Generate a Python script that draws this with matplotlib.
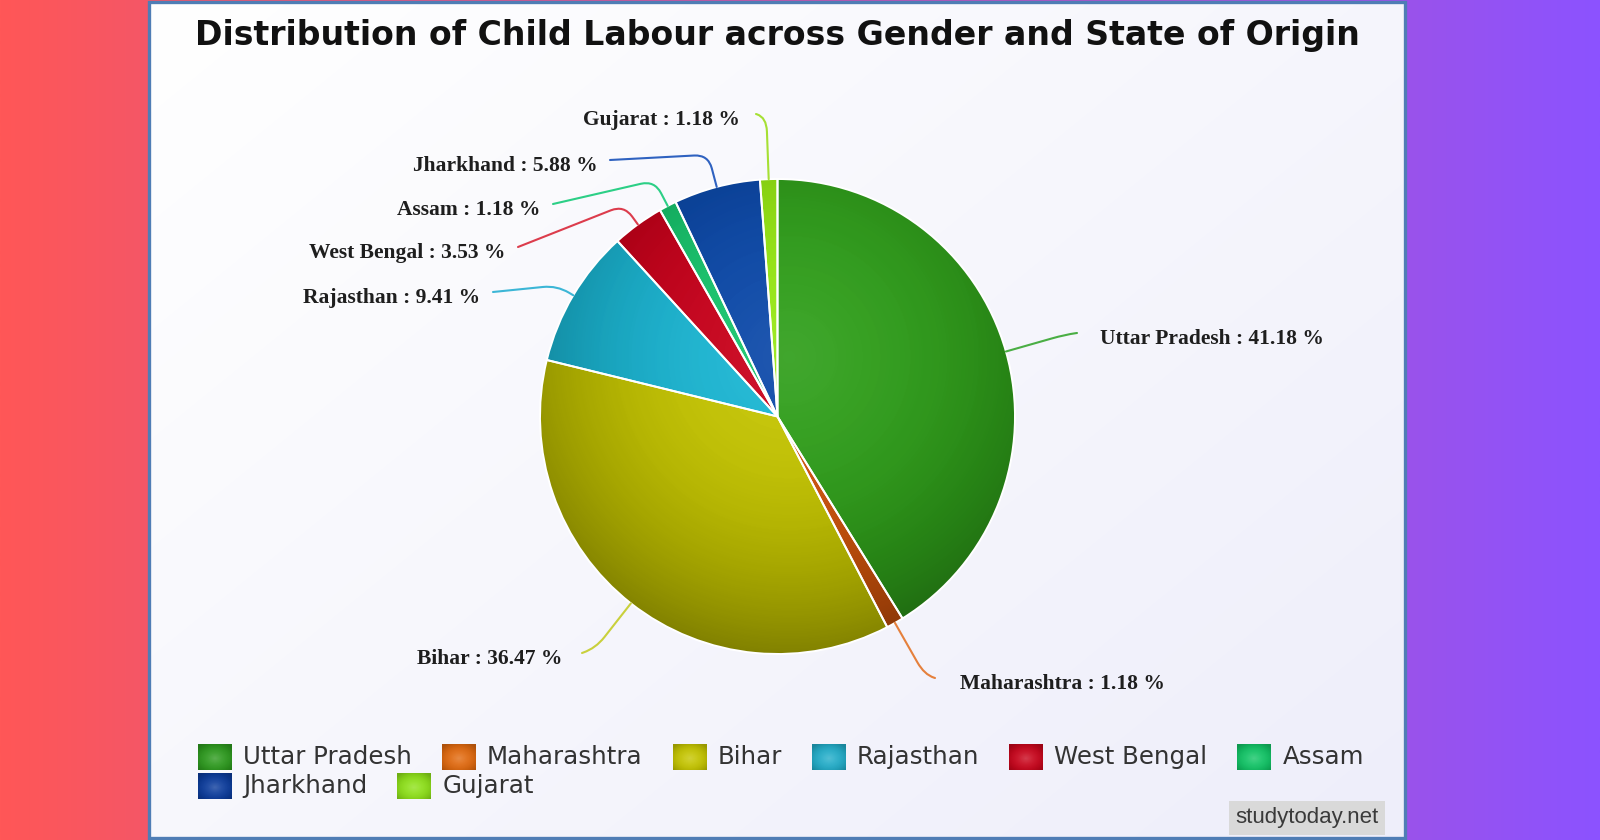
import numpy as np
import matplotlib
matplotlib.use('Agg')
import matplotlib.pyplot as plt
from matplotlib.patches import Rectangle, Circle, PathPatch
from matplotlib.path import Path
from matplotlib.colors import to_rgb

# ---------------- data ----------------
states = ['Uttar Pradesh', 'Maharashtra', 'Bihar', 'Rajasthan',
          'West Bengal', 'Assam', 'Jharkhand', 'Gujarat']
shares = [41.18, 1.18, 36.47, 9.41, 3.53, 1.18, 5.88, 1.18]
slice_colors = ['#2f9e1a', '#d0540c', '#c4c400', '#1ab5d2',
                '#c8001a', '#16c46c', '#0b48a8', '#95e612']
line_colors = ['#4aae44', '#e5803c', '#c9d03c', '#3cb6d6',
               '#dc3c4c', '#2ccf86', '#2f62c0', '#a6e034']
legend_colors = ['#2e9a1f', '#e0690f', '#c4c400', '#22acc8',
                 '#c8061c', '#12c466', '#0c3c9c', '#8ee01a']
title = 'Distribution of Child Labour across Gender and State of Origin'
watermark = 'studytoday.net'

# ---------------- layout (pixel units, y measured from top) ----------------
W, H = 1600, 840
def Y(y):
    return H - y

fig = plt.figure(figsize=(16, 8.4), dpi=100)
ax = fig.add_axes([0, 0, 1, 1])

# outer gradient background
xg = np.linspace(0, 1, 600)
c0 = np.array(to_rgb('#ff5757'))
c1 = np.array(to_rgb('#8c52ff'))
bg = c0[None, None, :] * (1 - xg)[None, :, None] + c1[None, None, :] * xg[None, :, None]
ax.imshow(bg, extent=(0, W, 0, H), aspect='auto', zorder=0, interpolation='bilinear')

# white panel with faint lavender gradient
px0, py0, px1, py1 = 149, 2, 1405, 838
yy, xx = np.mgrid[0:1:200j, 0:1:300j]
t = np.clip(0.55 * xx + 0.45 * yy, 0, 1)
p0 = np.array(to_rgb('#ffffff'))
p1 = np.array(to_rgb('#eeeefa'))
panel = p0[None, None, :] * (1 - t)[..., None] + p1[None, None, :] * t[..., None]
ax.imshow(panel, extent=(px0, px1, Y(py1), Y(py0)), aspect='auto', zorder=0.5,
          interpolation='bilinear')
ax.add_patch(Rectangle((px0, Y(py1)), px1 - px0, py1 - py0, fill=False,
                       edgecolor='#4f7db5', linewidth=2.4, zorder=0.6))

# ---------------- pie ----------------
cx, cy, R = 777.5, Y(416.5), 237.5
wedges, _ = ax.pie(shares, colors=slice_colors, startangle=90, counterclock=False,
                   center=(cx, cy), radius=R,
                   wedgeprops=dict(linewidth=0, zorder=2))

# radial shading overlay
n = 500
gx, gy = np.meshgrid(np.linspace(-1, 1, n), np.linspace(1, -1, n))
d = np.clip(np.hypot(gx - 0.05, gy - 0.25) / 1.25, 0, 1)
dark = np.zeros((n, n, 4)); dark[..., 3] = 0.34 * d ** 2.4
light = np.ones((n, n, 4)); light[..., 3] = 0.09 * (1 - d) ** 2
for img in (dark, light):
    im = ax.imshow(img, extent=(cx - R, cx + R, cy - R, cy + R), zorder=2.5,
                   interpolation='bilinear')
    im.set_clip_path(Circle((cx, cy), R, transform=ax.transData))

ax.pie(shares, startangle=90, counterclock=False, center=(cx, cy), radius=R,
       wedgeprops=dict(fill=False, edgecolor='white', linewidth=1.4, zorder=3))

# ---------------- leader lines + labels ----------------
label_end = [(1077, 333), (935, 678), (582, 653), (493, 292),
             (518, 247), (553, 204), (610, 160), (756, 114)]
elbow_k = [1.26, 1.25, 1.24, 1.08, 1.10, 1.12, 1.14, 1.26]
label_text_x = [1100, 960, 562, 480, 505, 540, 598, 740]

for i, w in enumerate(wedges):
    th = np.deg2rad(0.5 * (w.theta1 + w.theta2))
    P0 = np.array([cx + R * np.cos(th), cy + R * np.sin(th)])
    E = np.array([cx + elbow_k[i] * R * np.cos(th), cy + elbow_k[i] * R * np.sin(th)])
    P2 = np.array([label_end[i][0], Y(label_end[i][1])])
    rr = 14.0
    v1 = P0 - E; l1 = np.hypot(*v1)
    v2 = P2 - E; l2 = np.hypot(*v2)
    A = E + v1 * min(0.9, rr / l1)
    B = E + v2 * min(0.9, rr / l2)
    path = Path([P0, A, E, B, P2],
                [Path.MOVETO, Path.LINETO, Path.CURVE3, Path.CURVE3, Path.LINETO])
    ax.add_patch(PathPatch(path, fill=False, edgecolor=line_colors[i],
                           linewidth=1.5, zorder=3.5, capstyle='round'))
    txt = f'{states[i]} : {shares[i]:.2f} %'
    ha = 'left' if label_text_x[i] > cx else 'right'
    ax.text(label_text_x[i], Y(label_end[i][1] + 11), txt, ha=ha, va='baseline',
            fontsize=15.5, fontweight='bold', family='Liberation Serif',
            color='#1e1e1e', zorder=4)

# ---------------- title ----------------
ax.set_xlim(0, W)
ax.set_ylim(0, H)
ax.set_aspect('auto')
ax.set_axis_off()

fig.canvas.draw()
rend = fig.canvas.get_renderer()

def fit(t, target):
    wdt = t.get_window_extent(rend).width
    t.set_fontsize(t.get_fontsize() * target / wdt)

ttl = ax.text(777, Y(45), title, ha='center', va='baseline', fontsize=22,
              fontweight='bold', family='DejaVu Sans', color='#111111', zorder=4)
fit(ttl, 1164)

# ---------------- legend (flow layout) ----------------
rows = [list(range(0, 6)), list(range(6, 8))]
row_y = [757, 786]
box_w, box_h, box_gap, item_gap = 34, 26, 11, 30
probe = ax.text(0, 0, 'Uttar Pradesh', fontsize=16, family='DejaVu Sans')
fit(probe, 169)
leg_fs = probe.get_fontsize()
probe.remove()

bn = 60
bx, by = np.meshgrid(np.linspace(-1, 1, bn), np.linspace(1, -1, bn))
bd = np.clip(np.hypot(bx, by + 0.1) / 1.3, 0, 1)
box_shade = np.zeros((bn, bn, 4))
box_shade[..., :3] = 1.0
box_shade[..., 3] = 0.22 * (1 - bd) ** 2
box_dark = np.zeros((bn, bn, 4))
box_dark[..., 3] = 0.22 * bd ** 3

for r, idxs in enumerate(rows):
    x = 198
    for i in idxs:
        y0 = Y(row_y[r] + box_h / 2)
        ax.add_patch(Rectangle((x, y0), box_w, box_h,
                               facecolor=legend_colors[i], edgecolor='none',
                               zorder=4))
        for img in (box_dark, box_shade):
            ax.imshow(img, extent=(x, x + box_w, y0, y0 + box_h), aspect='auto',
                      zorder=4.1, interpolation='bilinear')
        t = ax.text(x + box_w + box_gap, Y(row_y[r]), states[i], ha='left',
                    va='center', fontsize=leg_fs, family='DejaVu Sans',
                    color='#333333', zorder=4)
        wdt = t.get_window_extent(rend).width
        x = x + box_w + box_gap + wdt + item_gap

# ---------------- watermark ----------------
ax.add_patch(Rectangle((1229, Y(835)), 156, 34, facecolor='#d9d9d9',
                       edgecolor='none', zorder=4))
wm = ax.text(1307, Y(818), watermark, ha='center', va='center', fontsize=15,
             family='Liberation Sans', color='#3a3a3a', zorder=5)
fit(wm, 144)

ax.set_xlim(0, W)
ax.set_ylim(0, H)
ax.set_aspect('auto')
fig.savefig('out.png', dpi=100)
